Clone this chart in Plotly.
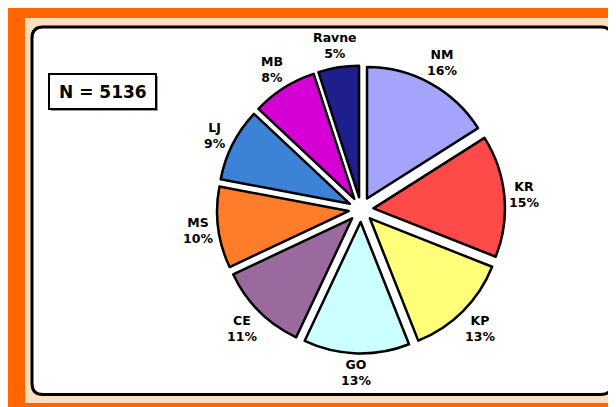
import math
import plotly.graph_objects as go

labels = ["NM", "KR", "KP", "GO", "CE", "MS", "LJ", "MB", "Ravne"]
shares = [16, 15, 13, 13, 11, 10, 9, 8, 5]
slice_colors = ["#A4A4FC", "#FF4A4A", "#FFFF7A", "#CCFFFF", "#9A6A9E",
                "#FF7C2A", "#3C82D6", "#D400D4", "#1E1E8C"]
total_n = 5136

# page offset (browser body margin) and figure size
OFF = 8
W, H = 616 - OFF, 407 - OFF

def px(x):
    return (x - OFF) / W

def py(y):
    return 1 - (y - OFF) / H

CX, CY, HALF = 361, 209.5, 144
FONT = 12.5

fig = go.Figure()
fig.add_trace(go.Pie(
    labels=labels,
    values=shares,
    sort=False,
    direction="clockwise",
    rotation=0,
    pull=[0.095] * len(labels),
    marker=dict(colors=slice_colors, line=dict(color="black", width=2.5)),
    textinfo="none",
    hoverinfo="label+percent",
    showlegend=False,
    domain=dict(x=[px(CX - HALF), px(CX + HALF)],
                y=[py(CY + HALF), py(CY - HALF)]),
))

# labels placed just outside each slice, along its bisector
total = sum(shares)
annotations = []
cum = 0
EDGE_R = 149
for lab, v in zip(labels, shares):
    mid = (cum + v / 2) / total * 2 * math.pi
    cum += v
    pct = f"{round(v / total * 100)}%"
    w = max(len(lab), len(pct)) * 0.68 * FONT + 2
    if lab == "Ravne":
        w = 43
    h = 28
    ext = (w / 2) * abs(math.sin(mid)) + (h / 2) * abs(math.cos(mid))
    r = EDGE_R + ext
    lx = CX + r * math.sin(mid)
    ly = CY - r * math.cos(mid)
    annotations.append(dict(
        x=px(lx), y=py(ly), xref="paper", yref="paper",
        text=f"<b>{lab}</b><br><b>{pct}</b>",
        showarrow=False, xanchor="center", yanchor="middle",
        font=dict(family="DejaVu Sans", size=FONT, color="black"),
    ))

annotations.append(dict(
    x=px(102.5), y=py(91.5), xref="paper", yref="paper",
    text=f"<b>N = {total_n}</b>", showarrow=False,
    font=dict(family="DejaVu Sans", size=17, color="black"),
    xanchor="center", yanchor="middle",
))

def rounded_path(x0, y0, x1, y1, r):
    rx, ry = r / W, r / H
    X0, X1 = px(x0), px(x1)
    Y0, Y1 = py(y0), py(y1)
    return (f"M {X0+rx},{Y0} L {X1-rx},{Y0} Q {X1},{Y0} {X1},{Y0-ry} "
            f"L {X1},{Y1+ry} Q {X1},{Y1} {X1-rx},{Y1} "
            f"L {X0+rx},{Y1} Q {X0},{Y1} {X0},{Y1+ry} "
            f"L {X0},{Y0-ry} Q {X0},{Y0} {X0+rx},{Y0} Z")

shapes = [
    dict(type="rect", xref="paper", yref="paper", x0=px(25), x1=px(616), y0=py(403), y1=py(18),
         fillcolor="#FFDEBD", line=dict(width=0), layer="below"),
    dict(type="path", xref="paper", yref="paper", path=rounded_path(32, 27, 612, 394.5, 11),
         fillcolor="white", line=dict(color="black", width=3), layer="below"),
    dict(type="rect", xref="paper", yref="paper", x0=px(51), x1=px(158), y0=py(111), y1=py(76),
         fillcolor="#999999", line=dict(width=0), layer="below"),
    dict(type="rect", xref="paper", yref="paper", x0=px(49), x1=px(156), y0=py(109), y1=py(74),
         fillcolor="white", line=dict(color="black", width=2), layer="below"),
]

fig.update_layout(
    width=W, height=H,
    margin=dict(l=0, r=0, t=0, b=0),
    paper_bgcolor="#FF6600",
    plot_bgcolor="white",
    shapes=shapes,
    annotations=annotations,
)

fig.write_html("out.html")
